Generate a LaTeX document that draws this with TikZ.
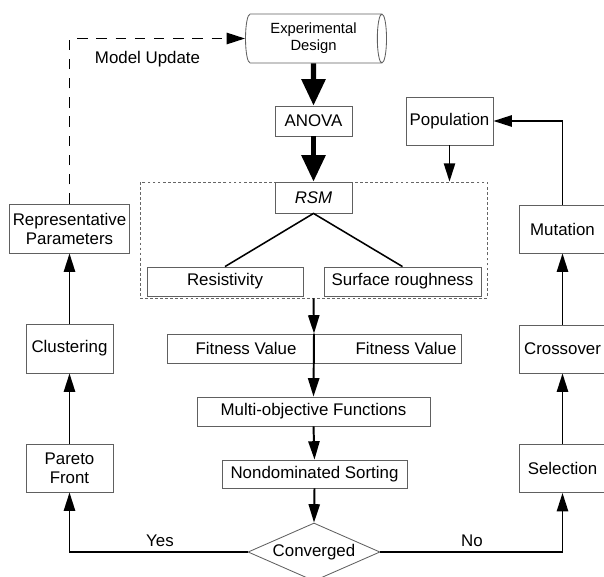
\documentclass[tikz,border=0pt]{standalone}
\usepackage{fontspec}
\setmainfont{Liberation Sans}
\usepackage{tikz}
\usetikzlibrary{arrows.meta,shapes.geometric}

\tikzset{
  txt/.style={font=\fontsize{12}{13.5}\selectfont},
  box/.style={txt, draw=gray!75!black, line width=0.6pt, inner sep=0pt, align=center},
  sz/.style 2 args={minimum width=#1*0.25mm, minimum height=#2*0.25mm},
  link/.style={line width=1.4pt, -{Triangle[length=4.6mm,width=2.8mm]}},
  biglink/.style={line width=3.6pt, -{Triangle[length=6.6mm,width=5.8mm]}},
}

\begin{document}
\begin{tikzpicture}[x=0.25mm,y=-0.25mm]
\useasboundingbox (0,0) rectangle (604,576);
% centre column
\node[box, cylinder, aspect=0.3, sz={49}{141}, font=\fontsize{10.5}{12}\selectfont] (expdesign) at (313.5,38.5) {Experimental\\Design};
\node[box, sz={77}{30}] (anova) at (313.5,121) {ANOVA};
\node[draw=gray!80!black, line width=0.5pt, dash pattern=on 2pt off 1.6pt, sz={347}{116}] (rsmbox) at (313.5,240) {};
\node[box, sz={77}{31}, font=\fontsize{12}{13.5}\selectfont\itshape] (rsm) at (313.5,197.5) {RSM};
\node[box, sz={156}{29}] (resist) at (225,281.5) {Resistivity};
\node[box, sz={157}{29}] (rough) at (402.5,281.5) {Surface roughness};
\node[box, sz={294}{29}] (fitness) at (314,348.5) {};
\node[txt] (fitleft) at (246,348.5) {Fitness Value};
\node[txt] (fitright) at (406,348.5) {Fitness Value};
\node[box, sz={233}{29}] (multi) at (313.5,411.5) {Multi-objective Functions};
\node[box, sz={185}{28}] (nondom) at (314.5,474) {Nondominated Sorting};
\node[box, diamond, aspect=2.2, sz={132}{58}] (conv) at (314,552) {Converged};
% left column
\node[box, sz={120}{49}] (reppar) at (69.5,228.5) {Representative\\Parameters};
\node[box, sz={87}{49}] (cluster) at (69.5,348.5) {Clustering};
\node[box, sz={87}{48}] (pareto) at (69.5,468) {Pareto\\Front};
% right column
\node[box, sz={87}{48}] (population) at (449.5,121) {Population};
\node[box, sz={87}{48}] (mutation) at (562.5,229) {Mutation};
\node[box, sz={87}{48}] (crossover) at (562.5,349) {Crossover};
\node[box, sz={87}{48}] (selection) at (562.5,468.5) {Selection};
\node[txt, anchor=west] (update) at (90,59) {Model Update};
\node[txt] (yes) at (160,541) {Yes};
\node[txt] (no) at (472,541) {No};

\draw[biglink] (expdesign.south) -- (anova.north);
\draw[biglink] (anova.south) -- (rsm.north);
\draw[line width=1.1pt] (resist.north) -- (rsm.south) -- (rough.north);
\draw[link] (population.south) -- (population.south |- rsmbox.north);
\draw[link] (rsmbox.south) -- (fitness.north);
\draw[link] (fitness.north) -- (multi.north);
\draw[link] (multi.south) -- (nondom.north);
\draw[link] (nondom.south) -- (conv.north);
\draw[link] (conv.west) -| (pareto.south);
\draw[link] (conv.east) -| (selection.south);
\draw[link] (pareto) -- (cluster);
\draw[link] (cluster) -- (reppar);
\draw[link] (selection) -- (crossover);
\draw[link] (crossover) -- (mutation);
\draw[link] (mutation.north) |- (population.east);
\draw[link, dash pattern=on 2.6mm off 2.2mm] (reppar.north) |- (expdesign.west);
\end{tikzpicture}
\end{document}
